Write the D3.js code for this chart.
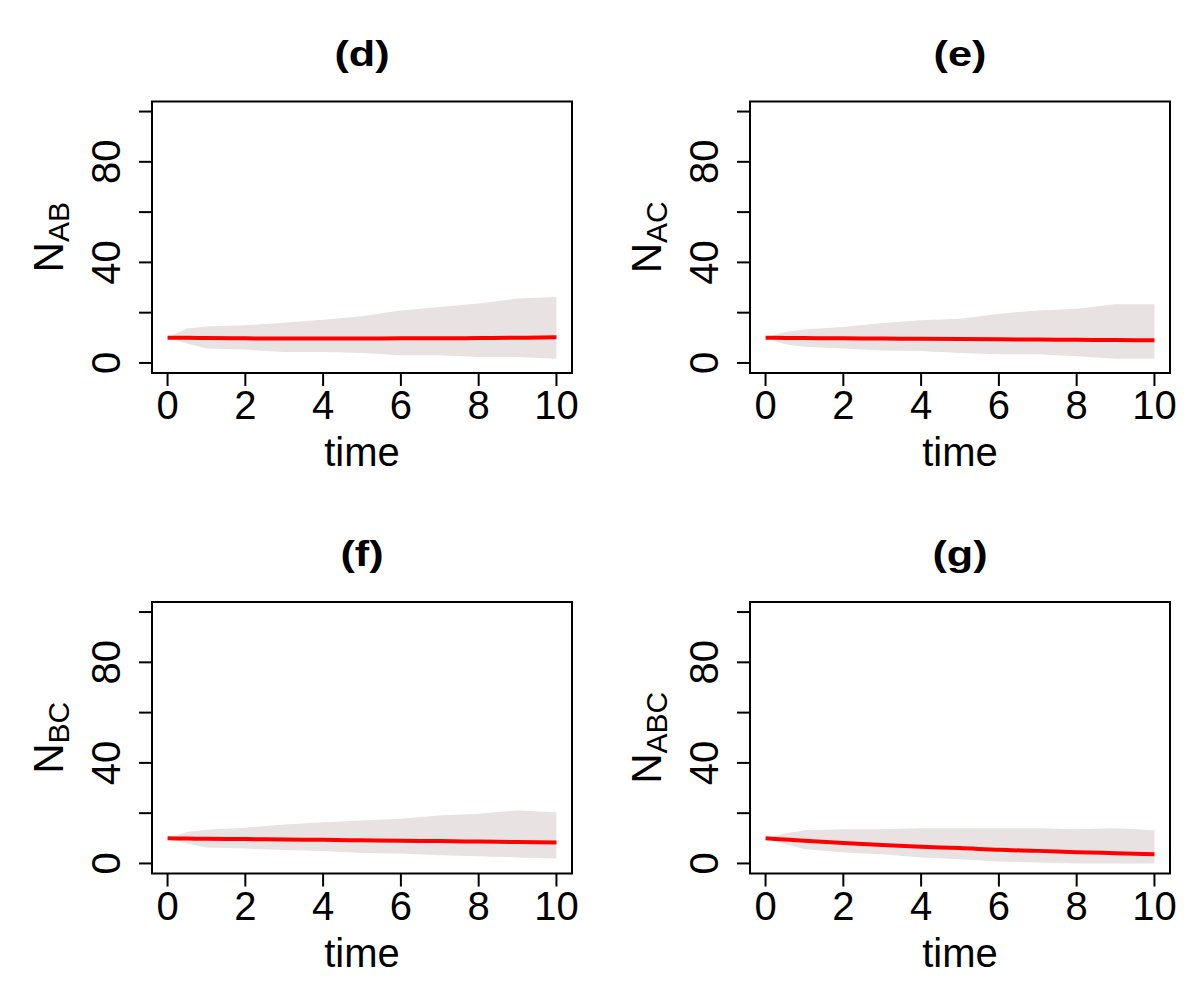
<!DOCTYPE html>
<html>
<head>
<meta charset="utf-8">
<script src="https://cdn.jsdelivr.net/npm/d3@7"></script>
<style>
  body { margin: 0; background: #fff; }
  text { font-family: "Liberation Sans", Arial, sans-serif; fill: #000; }
</style>
</head>
<body>
<div id="chart"></div>
<script>
const svgWidth = 1196;
const svgHeight = 1000;

// time points where the envelopes were read
const times = [0, 0.5, 1, 2, 3, 4, 5, 6, 7, 8, 9, 10];

// panel (d) N_AB
const upperAB = [10, 13.7, 14.5, 15, 16, 17.2, 18.6, 20.9, 22.3, 23.6, 25.6, 26.2];
const lowerAB = [10, 7.7, 5.7, 5.3, 4.4, 4.4, 4, 3.1, 3.1, 2.4, 2.4, 1.7];
const meanAB = [10, 10, 9.9, 9.8, 9.7, 9.7, 9.7, 9.8, 9.8, 9.9, 10, 10.2];

// panel (e) N_AC
const upperAC = [10, 12.3, 13.3, 14.3, 15.9, 17, 17.6, 19.6, 20.9, 21.6, 23.3, 23.3];
const lowerAC = [10, 7.4, 6.4, 5.7, 5, 4.8, 4, 3.5, 3.5, 2.7, 1.7, 1.7];
const meanAC = [10, 9.95, 9.9, 9.8, 9.7, 9.6, 9.5, 9.4, 9.3, 9.2, 9.1, 9.0];

// panel (f) N_BC
const upperBC = [10, 12.5, 13.4, 14.2, 15.5, 16.4, 17.1, 17.8, 19.1, 19.8, 21.1, 20.4];
const lowerBC = [10, 7.9, 6.3, 5.9, 5.3, 5, 4.2, 4, 3.3, 2.9, 2.4, 2];
const meanBC = [10, 9.9, 9.8, 9.7, 9.5, 9.4, 9.2, 9.0, 8.9, 8.7, 8.5, 8.3];

// panel (g) N_ABC
const upperABC = [10, 11.9, 13.2, 13.6, 13.6, 14, 14, 14, 14, 13.6, 14, 13.2];
const lowerABC = [10, 7.7, 5.7, 4.4, 3.7, 2.4, 1.7, 0.8, 0.4, 0, 0, 0];
const meanABC = [10, 9.5, 9.0, 8.1, 7.3, 6.6, 6.1, 5.4, 5.0, 4.5, 4.1, 3.7];

const titles = ["(d)", "(e)", "(f)", "(g)"];
const subs = ["AB", "AC", "BC", "ABC"];
const xTicks = [0, 2, 4, 6, 8, 10];
const yTicks = [0, 20, 40, 60, 80, 100];
const yTickLabels = [0, 40, 80];

const panels = [
  { title: titles[0], sub: subs[0], upper: upperAB, lower: lowerAB, mean: meanAB },
  { title: titles[1], sub: subs[1], upper: upperAC, lower: lowerAC, mean: meanAC },
  { title: titles[2], sub: subs[2], upper: upperBC, lower: lowerBC, mean: meanBC },
  { title: titles[3], sub: subs[3], upper: upperABC, lower: lowerABC, mean: meanABC }
];

// plot box geometry
const colX = [152, 750];
const rowY = [101.5, 602];
const boxW = 420;
const boxH = 271.5;

const svg = d3.select("#chart")
  .append("svg")
  .attr("width", svgWidth)
  .attr("height", svgHeight);

panels.forEach((p, i) => {
  const left = colX[i % 2];
  const top = rowY[Math.floor(i / 2)];

  const g = svg.append("g").attr("transform", `translate(${left},${top})`);

  // R style 4% padding
  const x = d3.scaleLinear().domain([-0.4, 10.4]).range([0, boxW]);
  const y = d3.scaleLinear().domain([-4, 104]).range([boxH, 0]);

  const rows = times.map((t, k) => ({ t, hi: p.upper[k], lo: p.lower[k], m: p.mean[k] }));

  // simulated trajectories envelope
  g.append("path")
    .datum(rows)
    .attr("fill", "#e8e2e2")
    .attr("d", d3.area()
      .x(d => x(d.t))
      .y0(d => y(d.lo))
      .y1(d => y(d.hi)));

  // mean
  g.append("path")
    .datum(rows)
    .attr("fill", "none")
    .attr("stroke", "#ff0000")
    .attr("stroke-width", 4)
    .attr("d", d3.line()
      .curve(d3.curveMonotoneX)
      .x(d => x(d.t))
      .y(d => y(d.m)));

  // box
  g.append("rect")
    .attr("width", boxW)
    .attr("height", boxH)
    .attr("fill", "none")
    .attr("stroke", "#000")
    .attr("stroke-width", 2);

  // x axis
  g.selectAll(".xtick")
    .data(xTicks)
    .enter()
    .append("line")
    .attr("x1", d => x(d)).attr("x2", d => x(d))
    .attr("y1", boxH).attr("y2", boxH + 13)
    .attr("stroke", "#000").attr("stroke-width", 2);

  g.selectAll(".xlab")
    .data(xTicks)
    .enter()
    .append("text")
    .attr("x", d => x(d))
    .attr("y", boxH + 46)
    .attr("text-anchor", "middle")
    .style("font-size", "40px")
    .text(d => d);

  // y axis
  g.selectAll(".ytick")
    .data(yTicks)
    .enter()
    .append("line")
    .attr("x1", -13).attr("x2", 0)
    .attr("y1", d => y(d)).attr("y2", d => y(d))
    .attr("stroke", "#000").attr("stroke-width", 2);

  g.selectAll(".ylab")
    .data(yTickLabels)
    .enter()
    .append("text")
    .attr("transform", d => `translate(-32,${y(d)}) rotate(-90)`)
    .attr("text-anchor", "middle")
    .style("font-size", "40px")
    .text(d => d);

  // x label
  g.append("text")
    .attr("x", boxW / 2)
    .attr("y", boxH + 93)
    .attr("text-anchor", "middle")
    .style("font-size", "40px")
    .text("time");

  // y label N_sub
  const yl = g.append("text")
    .attr("transform", `translate(-89,${boxH / 2}) rotate(-90)`)
    .attr("text-anchor", "middle")
    .style("font-size", "42px");
  yl.append("tspan").text("N");
  yl.append("tspan")
    .attr("dy", 6)
    .style("font-size", "30px")
    .text(p.sub);

  // title
  g.append("text")
    .attr("transform", `translate(${boxW / 2},-36) scale(1.2,1)`)
    .attr("text-anchor", "middle")
    .style("font-size", "36px")
    .style("font-weight", "bold")
    .text(p.title);
});
</script>
</body>
</html>
